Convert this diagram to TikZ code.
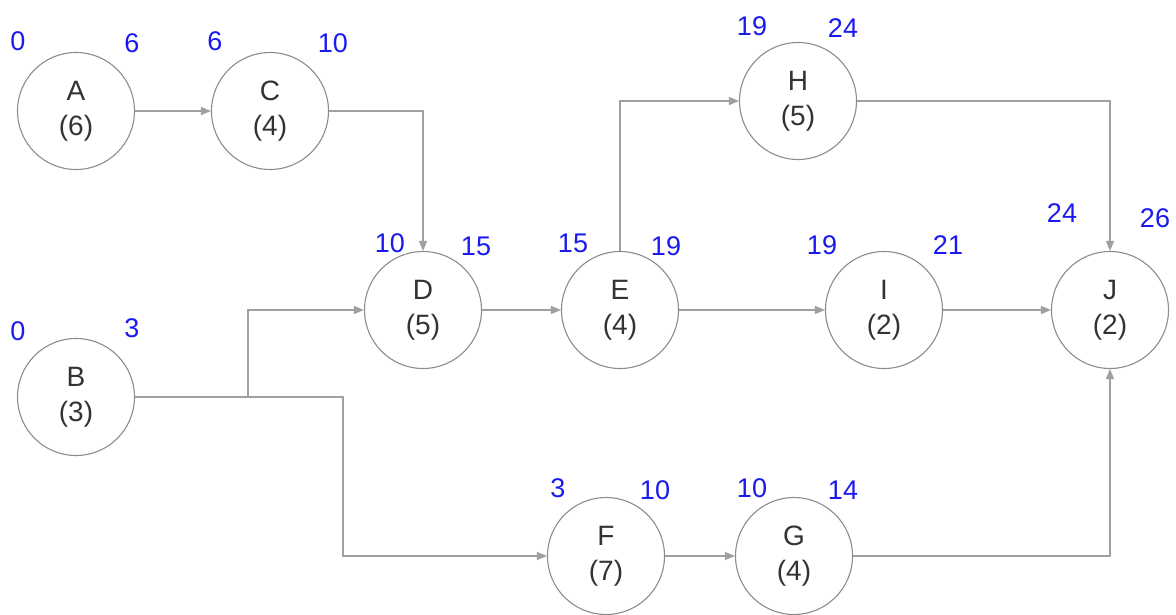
\documentclass[tikz,border=0pt]{standalone}
\usepackage{fontspec}
\setmainfont{Liberation Sans}
\usetikzlibrary{arrows.meta}
\definecolor{Line}{HTML}{A0A0A0}
\definecolor{Ring}{HTML}{8C8C8C}
\definecolor{Ink}{HTML}{333333}
\definecolor{Time}{HTML}{1A1AF0}

\begin{document}
\begin{tikzpicture}[x=1pt,y=-1pt,
  act/.style={circle,draw=Ring,line width=1.1pt,minimum size=117pt,inner sep=0pt,align=center,text=Ink,font=\fontsize{28}{35}\selectfont},
  tm/.style={text=Time,fill=white,inner sep=1pt,font=\fontsize{27}{27}\selectfont},
  link/.style={-{Triangle[length=10pt,width=8pt]},line width=1.2pt,Line}]
\useasboundingbox (0,0) rectangle (1176,615);
% activities
\node[act] (a) at (76,111) {A\\(6)};
\node[act] (c) at (270,111) {C\\(4)};
\node[act] (b) at (76,397) {B\\(3)};
\node[act] (d) at (423,310) {D\\(5)};
\node[act] (e) at (620,310) {E\\(4)};
\node[act] (h) at (798,101) {H\\(5)};
\node[act] (i) at (884,310) {I\\(2)};
\node[act] (j) at (1110,310) {J\\(2)};
\node[act] (f) at (606,556) {F\\(7)};
\node[act] (g) at (794,556) {G\\(4)};
% split points on the B line
\coordinate (bd) at (248,397);
\coordinate (bf) at (343,397);
% links
\draw[link] (a) -- (c);
\draw[link] (c) -| (d);
\draw[link] (b) -- (bf) |- (f);
\draw[link] (bd) |- (d);
\draw[link] (d) -- (e);
\draw[link] (e) |- (h);
\draw[link] (e) -- (i);
\draw[link] (i) -- (j);
\draw[link] (h) -| (j);
\draw[link] (f) -- (g);
\draw[link] (g) -| (j);
% start and finish times
\node[tm] (a-s) at (18,41) {0};
\node[tm] (a-f) at (132,43) {6};
\node[tm] (c-s) at (215,41) {6};
\node[tm] (c-f) at (333,43) {10};
\node[tm] (h-s) at (752,26) {19};
\node[tm] (h-f) at (843,28) {24};
\node[tm] (d-s) at (390,243) {10};
\node[tm] (d-f) at (476,246) {15};
\node[tm] (e-s) at (573,243) {15};
\node[tm] (e-f) at (666,246) {19};
\node[tm] (i-s) at (822,245) {19};
\node[tm] (i-f) at (948,245) {21};
\node[tm] (j-s) at (1062,213) {24};
\node[tm] (j-f) at (1155,218) {26};
\node[tm] (b-s) at (18,331) {0};
\node[tm] (b-f) at (132,328) {3};
\node[tm] (f-s) at (558,488) {3};
\node[tm] (f-f) at (655,490) {10};
\node[tm] (g-s) at (752,488) {10};
\node[tm] (g-f) at (843,490) {14};
\end{tikzpicture}
\end{document}
